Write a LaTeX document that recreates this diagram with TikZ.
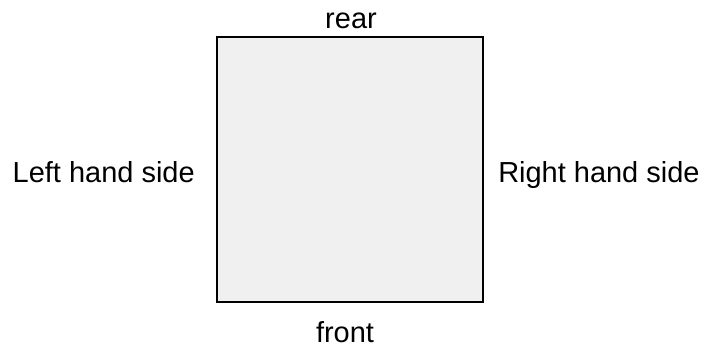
\documentclass[tikz,border=0pt]{standalone}
\usepackage{fontspec}
\setmainfont{Liberation Sans}
\usepackage{tikz}
\usetikzlibrary{positioning}
\definecolor{boxgray}{HTML}{F0F0F0}

\begin{document}
\begin{tikzpicture}[
    x=0.025cm, y=-0.025cm,
    bodybox/.style={rectangle, draw=black, fill=boxgray, line width=1.6pt, minimum width=6.65cm, minimum height=6.625cm, inner sep=0pt},
    sidelabel/.style={inner sep=0pt, font=\fontsize{20.6}{24}\selectfont},
  ]
  \useasboundingbox (0,0) rectangle (702,350);

  \node[bodybox] (square) at (350,169.5) {};

  \node[sidelabel, anchor=base] (rear) at (351,28) {rear};
  \node[sidelabel, anchor=base] (front) at (345,342) {front};
  \node[sidelabel, anchor=base east] (lhs) at (195,182) {Left hand side};
  \node[sidelabel, anchor=base west] (rhs) at (498,182) {Right hand side};

\end{tikzpicture}
\end{document}
